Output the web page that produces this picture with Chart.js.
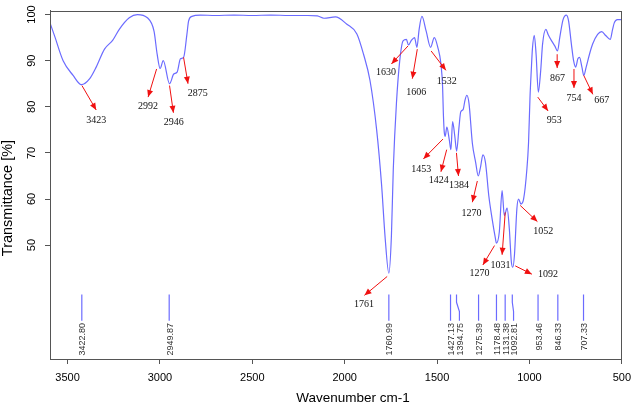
<!DOCTYPE html>
<html><head><meta charset="utf-8">
<script src="https://cdn.jsdelivr.net/npm/chart.js@4.4.1/dist/chart.umd.min.js"></script>
<style>html,body{margin:0;padding:0;background:#fff}#wrap{width:638px;height:406px}</style>
</head><body><div id="wrap"><canvas id="c" width="638" height="406"></canvas></div>
<script>
// ---- data ----
const wavenumbers = [3595,3568,3524,3470,3425,3380,3345,3300,3256,3220,3166,3122,3068,3032,3015,2999,2982,2948,2925,2907,2889,2872,2854,2845,2827,2782,2700,2600,2500,2400,2300,2200,2148,2112,2050,1988,1934,1898,1863,1827,1800,1782,1761,1747,1737,1720,1702,1684,1666,1655,1639,1622,1609,1597,1582,1559,1535,1515,1496,1479,1470,1466,1461,1456,1447,1434,1425,1416,1404,1394,1381,1372,1359,1349,1339,1327,1309,1291,1277,1264,1252,1238,1220,1202,1184,1179,1163,1148,1136,1121,1109,1098,1090,1081,1068,1059,1046,1032,1014,1005,997,990,984,974,964,952,939,929,911,899,880,863,848,836,818,800,788,773,761,750,738,729,716,706,693,675,658,631,609,586,563,550,541,524,500];
const transmittance = [98.2,95.1,90.0,86.8,84.8,86.1,88.6,92.5,94.4,96.8,99.3,100.0,99.3,96.4,91.4,88.3,90.0,85.0,87.1,87.5,90.4,90.7,95.7,98.6,99.6,99.9,99.8,99.9,99.8,99.9,99.8,99.8,99.7,99.2,99.5,97.9,95.8,91.4,85.7,75.0,62.9,52.1,43.9,52.1,66.4,80.7,90.0,94.3,94.6,93.4,94.4,95.0,92.9,96.8,99.6,96.4,92.9,95.0,92.9,89.3,84.3,78.6,74.5,73.6,75.6,72.9,70.7,76.8,73.6,70.4,75.7,78.9,79.4,81.4,82.5,80.7,72.1,67.9,65.0,67.1,69.6,67.9,60.7,55.7,51.4,50.4,52.9,61.8,56.4,58.0,53.6,46.4,45.2,47.9,57.9,60.0,58.9,59.9,66.4,72.1,82.0,88.0,92.5,95.5,91.4,83.2,87.9,93.6,96.8,95.7,94.3,93.2,92.1,95.0,98.9,99.9,98.6,93.6,90.0,88.6,90.4,90.7,88.6,86.8,88.6,91.4,93.6,95.7,96.3,95.4,94.6,96.8,98.2,98.9,98.9];
const xTicks = [3500,3000,2500,2000,1500,1000,500];
const yTicks = [50,60,70,80,90,100];
const peakValues = [3422.80,2949.87,1760.99,1427.13,1394.75,1275.39,1178.48,1131.38,1092.81,953.46,846.33,707.33];
const peakLabels = ['3422.80','2949.87','1760.99','1427.13','1394.75','1275.39','1178.48','1131.38','1092.81','953.46','846.33','707.33'];
const peakLabelAt = [3422.80,2949.87,1760.99,1427.13,1379,1275.39,1178.48,1131.38,1086,953.46,846.33,707.33];
const annoText = ['3423','2992','2946','2875','1761','1630','1606','1532','1453','1424','1384','1270','1270','1031','1092','1052','953','867','754','667'];
const annoFrom = [[3422,84.6],[3018,88.2],[2948,84.6],[2872,90.7],[1770,43.2],[1657,93.2],[1607,92.5],[1532,92.1],[1468,73.0],[1448,70.7],[1395,70.0],[1282,63.9],[1189,49.9],[1131,57.1],[1077,45.5],[1050,58.6],[955,82.1],[850,91.4],[759,88.2],[706,86.8]];
const annoTo = [[3345,79.3],[3064,82.1],[2927,78.7],[2848,85.0],[1893,39.1],[1747,89.3],[1634,86.1],[1452,87.9],[1574,68.7],[1479,65.9],[1384,65.0],[1309,59.3],[1252,45.7],[1148,47.9],[987,43.7],[957,55.1],[899,79.1],[850,88.4],[759,84.1],[657,82.7]];
const annoLabelAt = [[3345,77.1],[3064,80.1],[2925,76.6],[2795,82.9],[1895,37.2],[1777,87.5],[1613,83.1],[1448,85.6],[1586,66.4],[1491,64.1],[1381,62.9],[1313,56.9],[1270,43.8],[1157,45.7],[899,43.7],[925,53.0],[866,77.0],[848,86.2],[759,81.9],[609,81.3]];

// ---- build datasets ----
const spectrum = wavenumbers.map((w, i) => ({x: w, y: transmittance[i]}));
const STICK_TOP = 39.3, STICK_KINK1 = 37.6, STICK_KINK2 = 35.6, STICK_BOT = 33.6, LABEL_TOP = 33.1;
const sticks = [];
peakValues.forEach((v, i) => {
  const b = peakLabelAt[i];
  if (b === v) { sticks.push({x: v, y: STICK_TOP}, {x: v, y: STICK_BOT}); }
  else { sticks.push({x: v, y: STICK_TOP}, {x: v, y: STICK_KINK1}, {x: b, y: STICK_KINK2}, {x: b, y: STICK_BOT}); }
  sticks.push({x: b, y: null});
});

const BLUE = '#6b6bff';
const overlay = {
  id: 'overlay',
  afterDatasetsDraw(chart) {
    const {ctx, chartArea: a, scales: {x, y}} = chart;
    ctx.save();
    // box
    ctx.strokeStyle = '#555'; ctx.lineWidth = 1;
    ctx.strokeRect(Math.round(a.left) + 0.5, Math.round(a.top) + 0.5, Math.round(a.right - a.left) - 1, Math.round(a.bottom - a.top));
    // stick labels
    ctx.fillStyle = '#333';
    ctx.font = '9px "Liberation Sans", Arial, sans-serif';
    peakLabels.forEach((t, i) => {
      ctx.save();
      ctx.translate(x.getPixelForValue(peakLabelAt[i]) + 1, y.getPixelForValue(LABEL_TOP));
      ctx.rotate(-Math.PI / 2);
      ctx.textAlign = 'right'; ctx.textBaseline = 'middle';
      ctx.fillText(t, 0, 0);
      ctx.restore();
    });
    // arrows
    ctx.strokeStyle = '#f01010'; ctx.fillStyle = '#f01010'; ctx.lineWidth = 1;
    annoText.forEach((t, i) => {
      const x1 = x.getPixelForValue(annoFrom[i][0]), y1 = y.getPixelForValue(annoFrom[i][1]);
      const x2 = x.getPixelForValue(annoTo[i][0]), y2 = y.getPixelForValue(annoTo[i][1]);
      ctx.beginPath(); ctx.moveTo(x1, y1); ctx.lineTo(x2, y2); ctx.stroke();
      const ang = Math.atan2(y2 - y1, x2 - x1), L = 7, W = 3;
      ctx.beginPath(); ctx.moveTo(x2, y2);
      ctx.lineTo(x2 - L * Math.cos(ang) + W * Math.sin(ang), y2 - L * Math.sin(ang) - W * Math.cos(ang));
      ctx.lineTo(x2 - L * Math.cos(ang) - W * Math.sin(ang), y2 - L * Math.sin(ang) + W * Math.cos(ang));
      ctx.closePath(); ctx.fill();
    });
    ctx.fillStyle = '#111';
    ctx.font = '10px "Liberation Serif", "Times New Roman", serif';
    ctx.textAlign = 'center'; ctx.textBaseline = 'middle';
    annoText.forEach((t, i) => {
      ctx.fillText(t, x.getPixelForValue(annoLabelAt[i][0]), y.getPixelForValue(annoLabelAt[i][1]));
    });
    // axis titles
    ctx.fillStyle = '#000';
    ctx.font = '13.5px "Liberation Sans", Arial, sans-serif';
    ctx.fillText('Wavenumber cm-1', 353, 398);
    ctx.save();
    ctx.translate(8, 198); ctx.rotate(-Math.PI / 2);
    ctx.font = '14.5px "Liberation Sans", Arial, sans-serif';
    ctx.fillText('Transmittance [%]', 0, 0);
    ctx.restore();
    ctx.restore();
  }
};

new Chart(document.getElementById('c'), {
  type: 'line',
  data: {datasets: [
    {data: spectrum, borderColor: BLUE, borderWidth: 1.2, pointRadius: 0, cubicInterpolationMode: 'monotone', fill: false},
    {data: sticks, borderColor: BLUE, borderWidth: 1.2, pointRadius: 0, tension: 0, spanGaps: false, fill: false}
  ]},
  options: {
    responsive: false, animation: false, devicePixelRatio: 1,
    layout: {padding: {left: 0, top: 6, right: 10, bottom: 0}},
    plugins: {legend: {display: false}, tooltip: {enabled: false}},
    scales: {
      x: {
        type: 'linear', reverse: true, min: 500, max: 3595,
        afterBuildTicks: s => { s.ticks = xTicks.map(v => ({value: v})); },
        afterFit: s => { s.height = 47; },
        grid: {drawOnChartArea: false, tickLength: 5, color: '#555'},
        border: {color: '#555'},
        ticks: {font: {family: 'Liberation Sans', size: 11}, color: '#000', padding: 7, maxRotation: 0, minRotation: 0, autoSkip: false, callback: v => String(v)}
      },
      y: {
        type: 'linear', min: 25.3, max: 100.86,
        afterBuildTicks: s => { s.ticks = yTicks.map(v => ({value: v})); },
        afterFit: s => { s.width = 50; },
        grid: {drawOnChartArea: false, tickLength: 5, color: '#555'},
        border: {color: '#555'},
        ticks: {font: {family: 'Liberation Sans', size: 11}, color: '#000', padding: 4, minRotation: 90, maxRotation: 90, crossAlign: 'center', autoSkip: false, callback: v => String(v)}
      }
    }
  },
  plugins: [overlay]
});
</script></body></html>
